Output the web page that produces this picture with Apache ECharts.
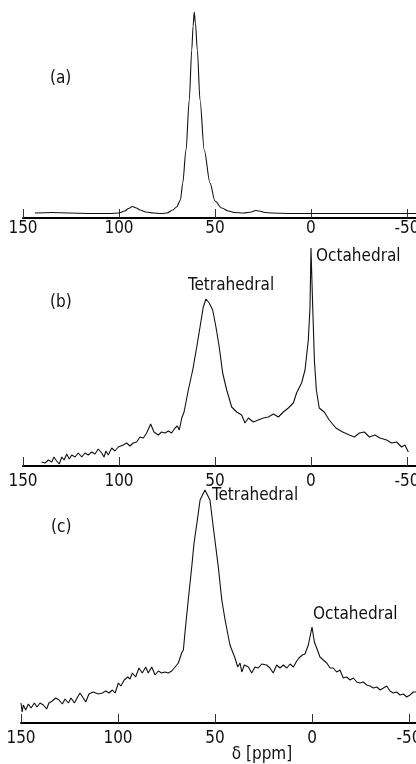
<!DOCTYPE html>
<html>
<head>
<meta charset="utf-8">
<script src="https://cdn.jsdelivr.net/npm/echarts@6/dist/echarts.min.js"></script>
<style>
html,body{margin:0;padding:0;background:#fff;}
#chart{width:416px;height:764px;}
</style>
</head>
<body>
<div id="chart"></div>
<script>
// chemical shift (ppm) and intensity (arbitrary units) for each spectrum
var shiftA = [143.8,135,125,115,105,100,97,95,93,91,89,86,82,78,75,72,70,68,66.8,65.1,63.4,62.1,61.4,60.8,60.2,59.2,57.8,55.6,52.6,50,46.5,43,40,35,31,29,27,24,20,10,0,-10,-20,-30,-40,-50,-54.7];
var intA = [5,5.5,5,4.5,4.5,5,7,9.5,11.5,10,8,6,5,4.5,5,8,11,18,35,68,118,168,192,206,195,168,118,68,35,17,10,7,5.5,5,6,7.5,7,5.5,5,4.5,4.5,4.5,4.5,4.5,4.5,4.5,4.5];

var shiftB = [140.3,138.5,136.8,135,133.9,132.5,131.1,129.8,128.6,127.2,
  125.9,124.6,122.9,121.2,119.4,117.7,116,114.2,112.5,110.8,
  109,107.8,106.8,105.6,103.8,102.1,100.4,97.8,96,94.3,
  92.6,90.8,89.1,87.3,85.6,83.5,81.8,79.5,77.8,76,
  74.3,72.6,70.8,69.6,68.6,67.3,66.1,63.9,61.6,59.5,
  57.8,56.1,54.7,53,51.2,49.5,47.8,46,43.9,41.3,
  38.7,36.1,34.4,32.6,30,27.5,24.8,22.2,19.6,17,
  14.4,11.8,9.2,7.5,4.9,3.1,1.4,0.5,0,-0.9,
  -1.8,-2.8,-4.3,-6.9,-9.5,-13,-16.5,-20,-22.6,-25.2,
  -27.8,-30.4,-33.3,-35.9,-39.4,-42,-44.6,-47.2,-48.9,-50.7];
var intB = [4,3,6,4,9,5,2,9,6,12,
  7,11,9,13,9,13,11,14,12,17,
  13,9,15,11,18,15,19,21,23,20,
  23,24,29,28,33,42,34,31,34,33,
  35,33,38,40,36,48,54,76,96,119,
  139,159,167,163,156,139,119,93,76,59,
  54,51,43,48,44,46,48,49,52,49,
  54,58,63,73,83,96,126,159,218,159,
  105,76,58,54,46,38,34,31,29,33,
  34,29,31,28,26,23,24,19,21,14];

var shiftC = [150,149.4,148.8,147.6,146.2,144.8,143.1,141.8,140.2,138.5,
  136.8,135.6,133.9,132.1,130.4,128.7,127.3,125.6,124.2,122.5,
  120.8,119.6,117.9,116.6,115,112.7,110.2,108.1,106.3,104.6,
  102.9,101.5,99.8,98.5,96.8,95,93.8,92.6,90.9,89.2,
  87.5,85.7,84.4,82.6,80.9,79.2,77.5,75.8,74.1,72.3,
  70.6,68.9,67.2,66.3,65.5,63.8,62,60.8,59.1,57.7,
  55.2,52.6,50.9,48.3,46.5,44.8,42.3,39.7,38.3,37.1,
  36.2,34.9,32.8,31.1,29.4,27.7,25.9,23.4,21.7,20,
  18.2,16.5,14.8,13,11.3,9.6,7.9,6.7,5,3.6,
  1.9,0,-1.2,-2.4,-4.1,-5.8,-7.6,-9.3,-11,-12.7,
  -14.4,-16.1,-17.9,-19.6,-21.3,-23,-24.7,-26.4,-28.2,-29.9,
  -31.6,-33.4,-35.1,-36.8,-38.5,-40.2,-41.9,-43.6,-45.4,-47.1,
  -48.8,-50.5,-52.2,-53.6];
var intC = [20,11,18,13,19,15,20,16,20,18,
  14,20,22,25,23,19,24,20,25,20,
  26,30,25,21,29,31,29,30,32,30,
  33,30,40,37,43,46,44,50,46,55,
  50,56,50,56,48,52,50,51,50,52,
  56,60,70,73,90,123,156,180,203,223,
  233,223,196,156,123,103,78,65,56,60,
  51,58,56,50,56,55,59,58,55,50,
  58,55,58,55,59,56,62,65,68,69,
  78,96,81,75,66,63,60,55,55,51,
  53,45,46,43,45,41,40,41,38,37,
  35,36,33,35,37,32,30,31,28,29,
  26,28,31,31];

var tickValues = [150, 100, 50, 0, -50];
var panelLabels = ['(a)', '(b)', '(c)'];
var siteLabels = ['Tetrahedral', 'Octahedral'];
var axisTitle = 'δ [ppm]';

function pairs(xs, ys) { return xs.map(function (x, i) { return [x, ys[i]]; }); }

var FONT = '"Liberation Sans Narrow","DejaVu Sans Condensed","Liberation Sans",sans-serif';
var INK = '#111';

var grids = [
  {left: 23, right: 0, top: 8, height: 210, containLabel: false, outerBoundsMode: 'none'},
  {left: 23, right: 0, top: 236, height: 230, containLabel: false, outerBoundsMode: 'none'},
  {left: 21, right: 0, top: 483, height: 240, containLabel: false, outerBoundsMode: 'none'}
];
var xMins = [-54.7, -54.7, -53.6];
var labelMargins = [2, 7, 7];
var yMaxs = [210, 230, 240];

var xAxes = grids.map(function (g, i) {
  return {
    type: 'value', gridIndex: i, inverse: true, min: xMins[i], max: 150,
    axisLine: {show: true, onZero: false, lineStyle: {color: '#000', width: 2}},
    axisTick: {show: true, inside: true, length: 9, customValues: tickValues, lineStyle: {color: '#333', width: 1}},
    axisLabel: {show: true, customValues: tickValues, margin: labelMargins[i], color: '#111', fontSize: 17, fontFamily: FONT,
      showMinLabel: true, showMaxLabel: true, hideOverlap: false,
      formatter: function (v) { return String(v); }},
    splitLine: {show: false}
  };
});
var yAxes = grids.map(function (g, i) {
  return {type: 'value', gridIndex: i, min: 0, max: yMaxs[i], show: false, splitLine: {show: false}};
});

function mkSeries(i, data, smooth) {
  return {
    type: 'line', xAxisIndex: i, yAxisIndex: i, data: data, showSymbol: false, symbol: 'none',
    smooth: smooth || false, smoothMonotone: smooth ? 'x' : undefined,
    lineStyle: {color: INK, width: 1.1}, animation: false, silent: true
  };
}

function txt(x, y, s, size) {
  return {type: 'text', x: x, y: y, style: {text: s, fill: '#111', fontSize: size || 15, fontFamily: FONT, verticalAlign: 'middle', align: 'left'}};
}

var chart = echarts.init(document.getElementById('chart'), null, {renderer: 'canvas'});
chart.setOption({
  animation: false,
  backgroundColor: '#fff',
  grid: grids,
  xAxis: xAxes,
  yAxis: yAxes,
  series: [
    mkSeries(0, pairs(shiftA, intA), 0.3),
    mkSeries(1, pairs(shiftB, intB)),
    mkSeries(2, pairs(shiftC, intC))
  ],
  graphic: [
    txt(50, 79, panelLabels[0], 17),
    txt(50, 303, panelLabels[1], 17),
    txt(51, 528, panelLabels[2], 17),
    txt(188, 286, siteLabels[0], 17),
    txt(316, 257, siteLabels[1], 17),
    txt(212, 496, siteLabels[0], 17),
    txt(313, 615, siteLabels[1], 17),
    {type: 'text', x: 262, y: 755, style: {text: axisTitle, fill: '#111', fontSize: 17, fontFamily: FONT, verticalAlign: 'middle', align: 'center'}}
  ]
});
</script>
</body>
</html>
